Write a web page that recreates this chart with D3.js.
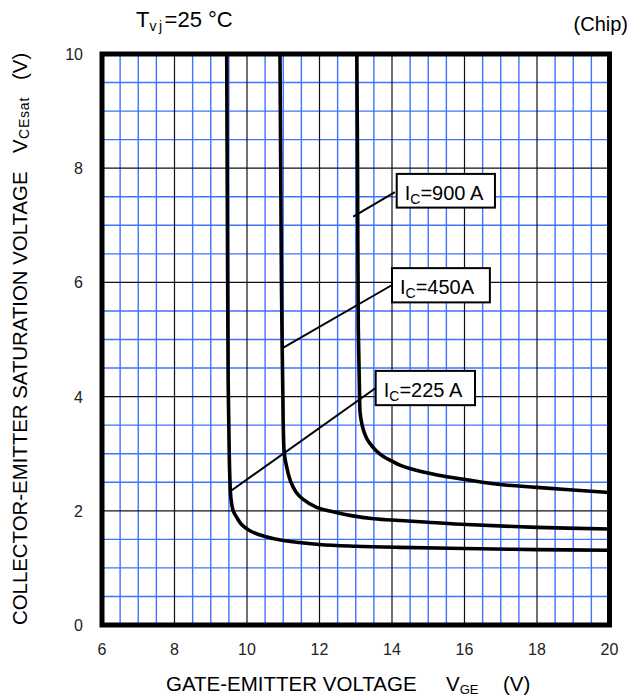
<!DOCTYPE html>
<html>
<head>
<meta charset="utf-8">
<script src="https://cdn.jsdelivr.net/npm/d3@7/dist/d3.min.js"></script>
<style>
  body { margin: 0; background: #fff; }
  svg { display: block; font-family: Arial, "Liberation Sans", sans-serif; }
</style>
</head>
<body>
<svg id="chart" width="633" height="697"></svg>
<script>
// ---- data (VGE in V, VCEsat in V) ----
const xTicks = [6, 8, 10, 12, 14, 16, 18, 20];
const yTicks = [0, 2, 4, 6, 8, 10];

const vge225 = [9.44, 9.46, 9.48, 9.51, 9.53, 9.56, 9.62, 9.72, 9.85, 10.08, 10.5, 11.0, 12.0, 13.0, 14.2, 16.0, 18.0, 20.0];
const vce225 = [10.0, 7.0, 4.27, 3.0, 2.52, 2.2, 2.0, 1.88, 1.76, 1.65, 1.55, 1.48, 1.41, 1.38, 1.36, 1.34, 1.32, 1.31];

const vge450 = [10.91, 10.93, 10.95, 10.97, 10.99, 11.0, 11.03, 11.1, 11.2, 11.35, 11.55, 11.92, 12.4, 12.84, 13.5, 14.2, 15.0, 16.06, 18.0, 20.0];
const vce450 = [10.0, 8.0, 6.0, 4.85, 4.0, 3.5, 3.0, 2.75, 2.52, 2.33, 2.2, 2.06, 1.98, 1.92, 1.86, 1.83, 1.8, 1.76, 1.71, 1.68];

const vge900 = [13.03, 13.05, 13.07, 13.1, 13.12, 13.16, 13.21, 13.3, 13.39, 13.55, 13.76, 14.0, 14.22, 14.86, 15.88, 16.98, 17.99, 20.0];
const vce900 = [10.0, 8.0, 5.2, 4.2, 3.72, 3.55, 3.42, 3.27, 3.18, 3.06, 2.95, 2.87, 2.8, 2.68, 2.56, 2.46, 2.41, 2.32];

const seriesNames = ["225 A", "450A", "900 A"];
// annotation boxes in data units: box x0,x1,yTop,yBottom ; leader from (lx0,ly0) to (lx1,ly1)
const annBoxX0 = [13.55, 14.0, 14.13];
const annBoxX1 = [16.29, 16.70, 16.84];
const annBoxYTop = [4.45, 6.25, 7.90];
const annBoxYBot = [3.85, 5.65, 7.31];
const annLineX0 = [13.55, 13.99, 14.08];
const annLineY0 = [4.15, 5.95, 7.58];
const annLineX1 = [9.58, 10.98, 12.93];
const annLineY1 = [2.36, 4.85, 7.15];

// ---- layout ----
const svg = d3.select("#chart");
const x = d3.scaleLinear().domain([6, 20]).range([102, 609.5]);
const y = d3.scaleLinear().domain([0, 10]).range([625, 54]);

const blue = "#4272ff";

// grid
const g = svg.append("g");
const minorX = d3.range(6.5, 20, 0.5).filter(v => v % 2 !== 0);
const majorX = d3.range(8, 20, 2);
const minorY = d3.range(0.5, 10, 0.5).filter(v => v % 2 !== 0);
const majorY = d3.range(2, 10, 2);

g.selectAll(".mxy").data(minorY).join("line")
  .attr("x1", x(6)).attr("x2", x(20)).attr("y1", d => y(d)).attr("y2", d => y(d))
  .attr("stroke", blue).attr("stroke-width", 1.4);
g.selectAll(".mxx").data(minorX).join("line")
  .attr("y1", y(0)).attr("y2", y(10)).attr("x1", d => x(d)).attr("x2", d => x(d))
  .attr("stroke", blue).attr("stroke-width", 1.4);
g.selectAll(".MY").data(majorY).join("line")
  .attr("x1", x(6)).attr("x2", x(20)).attr("y1", d => y(d)).attr("y2", d => y(d))
  .attr("stroke", "#111").attr("stroke-width", 1.2);
g.selectAll(".MX").data(majorX).join("line")
  .attr("y1", y(0)).attr("y2", y(10)).attr("x1", d => x(d)).attr("x2", d => x(d))
  .attr("stroke", "#111").attr("stroke-width", 1.2);

// clip
svg.append("clipPath").attr("id", "clip").append("rect")
  .attr("x", x(6)).attr("y", y(10)).attr("width", x(20) - x(6)).attr("height", y(0) - y(10));

const line = d3.line().x(d => x(d[0])).y(d => y(d[1])).curve(d3.curveCatmullRom.alpha(0.5));
const series = [
  d3.zip(vge225, vce225),
  d3.zip(vge450, vce450),
  d3.zip(vge900, vce900)
];
svg.append("g").attr("clip-path", "url(#clip)")
  .selectAll("path").data(series).join("path")
  .attr("d", line).attr("fill", "none").attr("stroke", "#000")
  .attr("stroke-width", 3.6).attr("stroke-linejoin", "round").attr("stroke-linecap", "round");

// annotations
const ann = svg.append("g");
seriesNames.forEach((name, i) => {
  ann.append("line")
    .attr("x1", x(annLineX0[i])).attr("y1", y(annLineY0[i]))
    .attr("x2", x(annLineX1[i])).attr("y2", y(annLineY1[i]))
    .attr("stroke", "#000").attr("stroke-width", 2);
  const bx = x(annBoxX0[i]), by = y(annBoxYTop[i]);
  const bw = x(annBoxX1[i]) - bx, bh = y(annBoxYBot[i]) - by;
  ann.append("rect").attr("x", bx).attr("y", by).attr("width", bw).attr("height", bh)
    .attr("fill", "#fff").attr("stroke", "#000").attr("stroke-width", 2);
  const t = ann.append("text").attr("x", bx + 8).attr("y", by + bh - 8)
    .attr("font-size", 20).attr("fill", "#000");
  t.append("tspan").text("I");
  t.append("tspan").attr("font-size", 14).attr("dy", 4).text("C");
  t.append("tspan").attr("dy", -4).text("=" + name);
});

// border
svg.append("rect").attr("x", x(6)).attr("y", y(10))
  .attr("width", x(20) - x(6)).attr("height", y(0) - y(10))
  .attr("fill", "none").attr("stroke", "#000").attr("stroke-width", 5);

// tick labels
svg.append("g").selectAll("text").data(xTicks).join("text")
  .attr("x", d => x(d)).attr("y", 655).attr("text-anchor", "middle")
  .attr("font-size", 16).attr("fill", "#222").text(d => d);
svg.append("g").selectAll("text").data(yTicks).join("text")
  .attr("x", 83).attr("y", d => y(d) + 6).attr("text-anchor", "end")
  .attr("font-size", 16).attr("fill", "#222").text(d => d);

// title
const title = svg.append("text").attr("x", 136).attr("y", 27).attr("font-size", 22).attr("fill", "#000");
title.append("tspan").text("T");
title.append("tspan").attr("font-size", 14).attr("dy", 4).attr("letter-spacing", 2.5).text("vj");
title.append("tspan").attr("dy", -4).text("=25 °C");

svg.append("text").attr("x", 628).attr("y", 31).attr("text-anchor", "end")
  .attr("font-size", 20).attr("fill", "#000").text("(Chip)");

// x axis label
svg.append("text").attr("x", 166).attr("y", 691).attr("font-size", 20.5).attr("fill", "#000")
  .text("GATE-EMITTER VOLTAGE");
const xv = svg.append("text").attr("x", 446).attr("y", 691).attr("font-size", 20.5).attr("fill", "#000");
xv.append("tspan").text("V");
xv.append("tspan").attr("font-size", 13).attr("dy", 3).text("GE");
svg.append("text").attr("x", 503).attr("y", 691).attr("font-size", 20.5).attr("fill", "#000").text("(V)");

// y axis label
const yl = (yy, txt, fs, dx) => svg.append("text")
  .attr("transform", `translate(${27 + (dx || 0)},${yy}) rotate(-90)`)
  .attr("font-size", fs).attr("fill", "#000").text(txt);
yl(625, "COLLECTOR-EMITTER SATURATION VOLTAGE", 20.4);
yl(153, "V", 20.4);
yl(139, "CEsat", 14, 2).attr("letter-spacing", 0.8);
yl(80, "(V)", 20.4);
</script>
</body>
</html>
